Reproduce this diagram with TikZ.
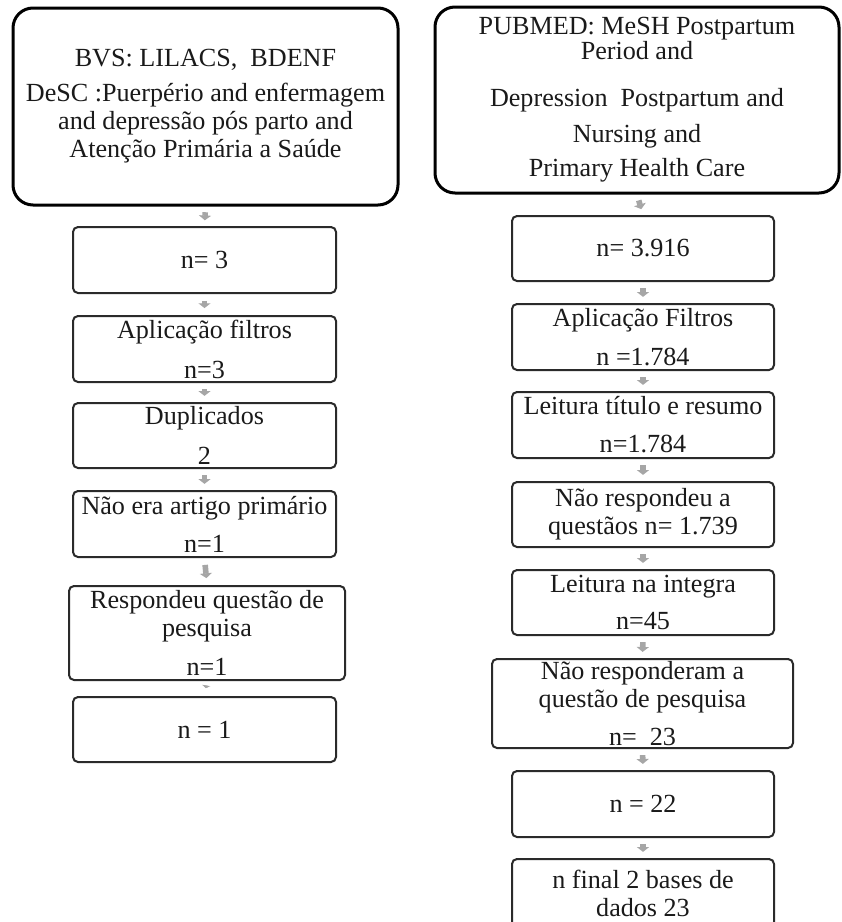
\documentclass[tikz,border=0pt]{standalone}
\usepackage{fontspec}
\setmainfont{Liberation Serif}
\usetikzlibrary{arrows.meta}
\definecolor{arrowgray}{HTML}{A6A6A6}
\definecolor{boxline}{HTML}{2A2A2A}
\definecolor{txt}{HTML}{1A1A1A}
\begin{document}
\begin{tikzpicture}[x=0.75pt,y=-0.75pt,
  font=\fontsize{19.6}{21}\selectfont,
  box/.style={draw=boxline, line width=1.5pt, rounded corners=3.75pt, fill=white,
    align=center, inner sep=0pt, text=txt},
  bigbox/.style={box, draw=black, line width=2.25pt, rounded corners=15pt},
  garr/.style={draw=arrowgray, line width=4.2pt,
    -{Triangle[length=3.6pt,width=9pt,fill=arrowgray]},
    shorten <=#1, shorten >=#1},
  garr/.default=4.6pt]
\useasboundingbox[fill=white] (0,0) rectangle (842,922);
\begin{scope}
\clip (0,0) rectangle (842,922);
% left column
\node[bigbox, minimum width=288.75pt, minimum height=147.75pt] (L0) at (205.5,106.5)
  {BVS: LILACS,\ \ BDENF\\[5.25pt]DeSC :Puerpério and enfermagem\\and depressão pós parto and\\Atenção Primária a Saúde};
\node[box, minimum width=197.25pt, minimum height=49.5pt] (L1) at (204.5,260) {n= 3};
\node[box, minimum width=197.25pt, minimum height=49.5pt] (L2) at (204.5,349) {Aplicação\ filtros\\[9pt]n=3};
\node[box, minimum width=197.25pt, minimum height=48.75pt] (L3) at (204.5,435.5) {Duplicados\\[9pt]2};
\node[box, minimum width=197.25pt, minimum height=49.5pt] (L4) at (204.5,524) {Não era artigo primário\\[7.5pt]n=1};
\node[box, minimum width=207pt, minimum height=70.5pt] (L5) at (207,633) {Respondeu questão de\\pesquisa\\[8pt]n=1};
\node[box, minimum width=197.25pt, minimum height=48.75pt] (L6) at (204.5,729.5) {n = 1};
% right column
\node[bigbox, minimum width=303pt, minimum height=139.5pt] (R0) at (637,100)
  {PUBMED: MeSH Postpartum\\[-2.25pt]Period and\\[14.25pt]Depression\ \ Postpartum and\\[6pt]Nursing and\\[4.5pt]Primary Health Care};
\node[box, minimum width=196.5pt, minimum height=48.75pt] (R1) at (643,248.5) {n= 3.916};
\node[box, minimum width=196.5pt, minimum height=49.5pt] (R2) at (643,337) {Aplicação\ Filtros\\[8pt]n =1.784};
\node[box, minimum width=196.5pt, minimum height=49.5pt] (R3) at (643,425) {Leitura título e resumo\\[7.5pt]n=1.784};
\node[box, minimum width=196.5pt, minimum height=48.75pt] (R4) at (643,514.5) {Não respondeu a\\questãos n= 1.739};
\node[box, minimum width=196.5pt, minimum height=48.75pt] (R5) at (643,602.5) {Leitura na\ integra\\[7pt]n=45};
\node[box, minimum width=225.75pt, minimum height=66.75pt] (R6) at (642.5,703.5) {Não responderam\ a\\questão de pesquisa\\[8pt]n=\ \ 23};
\node[box, minimum width=196.5pt, minimum height=49.5pt] (R7) at (643,804) {n = 22};
\node[box, minimum width=196.5pt, minimum height=51pt] (R8) at (643,893) {n final 2 bases de\\dados 23};
% connectors
\draw[garr=4.3pt] (L0.south) -- (L1.north);
\draw[garr=5.2pt] (L1.south) -- (L2.north);
\draw[garr] (L2.south) -- (L3.north);
\draw[garr] (L3.south) -- (L4.north);
\draw[garr=5.2pt] (L4.south) -- (L5.north);
\draw[draw=arrowgray, line width=3pt, -{Triangle[length=2pt,width=6pt,fill=arrowgray]},
  shorten <=4.6pt, shorten >=6pt] (L5.south) -- (L6.north);
\draw[garr] (R0.south) -- (R1.north);
\draw[garr] (R1.south) -- (R2.north);
\draw[garr] (R2.south) -- (R3.north);
\draw[garr] (R3.south) -- (R4.north);
\draw[garr] (R4.south) -- (R5.north);
\draw[garr] (R5.south) -- (R6.north);
\draw[garr] (R6.south) -- (R7.north);
\draw[garr] (R7.south) -- (R8.north);
\end{scope}
\end{tikzpicture}
\end{document}
